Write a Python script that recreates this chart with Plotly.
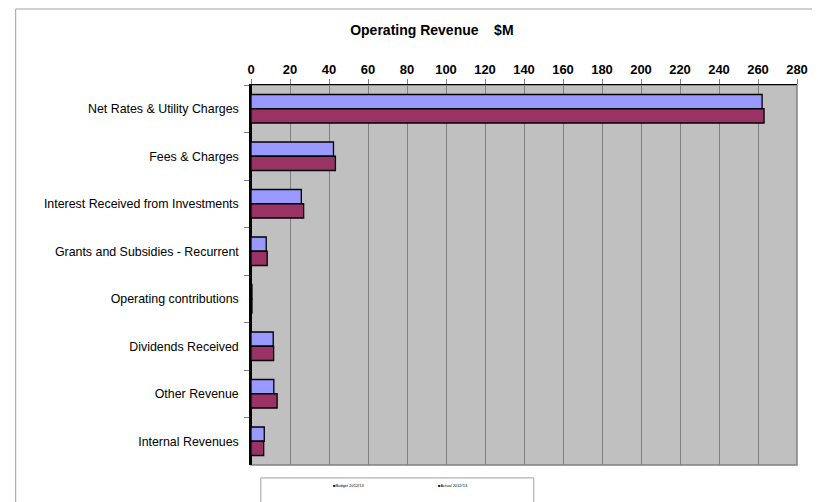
import plotly.graph_objects as go

categories = [
    'Net Rates & Utility Charges',
    'Fees & Charges',
    'Interest Received from Investments',
    'Grants and Subsidies - Recurrent',
    'Operating contributions',
    'Dividends Received',
    'Other Revenue',
    'Internal Revenues',
]
budget = [262.1, 42.3, 25.8, 7.8, 0.5, 11.4, 11.7, 6.8]
actual = [263.1, 43.3, 27.0, 8.3, 0.5, 11.6, 13.4, 6.5]
series_names = ['Budget 2012/13', 'Actual 2012/13']
x_ticks = list(range(0, 281, 20))

fig = go.Figure()

fig.add_trace(go.Bar(
    y=categories, x=budget, name=series_names[0], orientation='h',
    marker=dict(color='#9999FF', line=dict(color='black', width=1.3))
))
fig.add_trace(go.Bar(
    y=categories, x=actual, name=series_names[1], orientation='h',
    marker=dict(color='#993366', line=dict(color='black', width=1.3))
))

# outer chart border and legend box
fig.add_shape(type='rect', xref='paper', yref='paper',
              x0=-0.431, x1=1.031, y0=-0.3, y1=1.2,
              line=dict(color='#A0A0A0', width=1), layer='below')
fig.add_shape(type='rect', xref='paper', yref='paper',
              x0=0.018, x1=0.518, y0=-0.3, y1=-0.034,
              line=dict(color='#A0A0A0', width=1), fillcolor='white')

# legend entries (tiny, as in the source)
for name, xpos in zip(series_names, [0.147, 0.338]):
    fig.add_annotation(xref='paper', yref='paper', x=xpos, y=-0.066,
                       text='\u25a0' + name, showarrow=False, xanchor='left',
                       font=dict(size=4, color='black'))

# page body has an 8px margin, so the figure is shifted by 8px
fig.update_layout(
    width=812, height=494,
    margin=dict(l=243, r=19, t=77, b=37),
    paper_bgcolor='white',
    plot_bgcolor='#C0C0C0',
    barmode='group',
    bargap=0.4,
    bargroupgap=0,
    showlegend=False,
    font=dict(family='Liberation Sans, Arial, sans-serif', color='black'),
    title=dict(text='Operating Revenue\u00a0\u00a0\u00a0\u00a0$M', x=0.522, y=0.955,
               xanchor='center', yanchor='middle',
               font=dict(size=14, weight='bold', color='black')),
    xaxis=dict(
        side='top', range=[0, 280], tickvals=x_ticks,
        tickfont=dict(size=13, weight='bold'),
        showgrid=True, gridcolor='#808080', gridwidth=1,
        ticks='outside', ticklen=5, tickcolor='#808080',
        showline=True, linecolor='black', linewidth=1, mirror=False,
        zeroline=True, zerolinecolor='black', zerolinewidth=1.5,
    ),
    yaxis=dict(
        autorange='reversed', tickfont=dict(size=12.4),
        ticks='outside', ticklen=5, tickcolor='#808080', tickson='boundaries',
        showline=True, linecolor='black', linewidth=1.5,
        showgrid=False, ticklabelstandoff=8,
    ),
)

# right/bottom border of plot area
fig.add_shape(type='rect', xref='paper', yref='paper', x0=0, x1=1, y0=0, y1=1,
              line=dict(color='#808080', width=1.5), layer='below')

fig.write_html('out.html')
